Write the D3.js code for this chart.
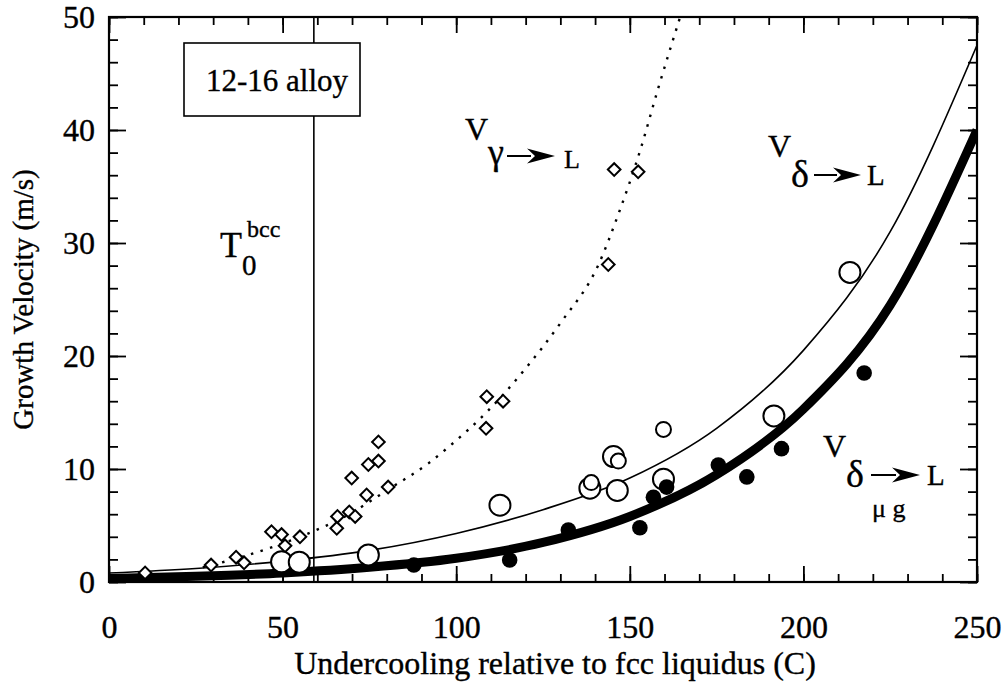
<!DOCTYPE html>
<html>
<head>
<meta charset="utf-8">
<script src="https://cdn.jsdelivr.net/npm/d3@7"></script>
<style>
  html, body { margin: 0; padding: 0; background: #fff; }
  svg { display: block; }
  text { font-family: "Liberation Serif", "Times New Roman", serif; fill: #000; stroke: #000; stroke-width: 0.35px; }
</style>
</head>
<body>
<svg id="chart" width="1008" height="693"></svg>
<script>
// Undercooling (C) and growth velocity (m/s) data
const gammaDiamonds = [
  [10.4, 0.8], [29.4, 1.5], [36.6, 2.2], [38.9, 1.7], [46.8, 4.45], [49.7, 4.2],
  [50.7, 3.2], [55.0, 4.0], [65.6, 4.75], [65.8, 5.8], [69.2, 6.2], [70.9, 5.8],
  [69.9, 9.2], [74.2, 7.7], [74.7, 10.4], [77.6, 10.7], [77.6, 12.4], [80.4, 8.4],
  [108.6, 13.6], [108.8, 16.4], [113.5, 16.0], [143.8, 28.1], [145.5, 36.5], [152.4, 36.3]
];
const deltaOpenLarge = [
  [49.7, 1.8], [54.8, 1.75], [74.7, 2.4], [112.6, 6.8], [138.5, 8.3], [146.4, 8.1],
  [145.3, 11.1], [159.7, 9.1], [191.5, 14.7], [213.4, 27.4]
];
const deltaOpenSmall = [
  [138.9, 8.8], [146.7, 10.7], [159.7, 13.5]
];
const deltaFilled = [
  [87.8, 1.5], [115.4, 1.95], [132.3, 4.6], [152.9, 4.8], [156.8, 7.5], [160.6, 8.4],
  [175.5, 10.35], [183.7, 9.3], [193.7, 11.8], [217.5, 18.5]
];

// Model curves
const curveGamma = [
  [27, 1.3], [38, 2.2], [55, 4.0], [68, 5.8], [81, 8.3], [92, 10.5], [98, 12.0],
  [109, 15.1], [120, 18.9], [130, 22.9], [141, 28.1], [147, 32.8], [153, 38.2],
  [158, 43.5], [164.5, 50]
];
const curveDelta = [
  [0, 0.8], [25, 1.2], [50, 1.85], [75, 2.8], [100, 4.3], [125, 6.4], [150, 9.2],
  [175, 13.6], [200, 20.5], [225, 31.0], [250, 47.5]
];
const curveDeltaMicroG = [
  [0, 0.3], [25, 0.5], [50, 0.8], [75, 1.3], [100, 2.1], [125, 3.5], [150, 5.8],
  [175, 9.5], [200, 15.3], [225, 24.5], [250, 40]
];

const xDomain = [0, 250];
const yDomain = [0, 50];
const xMajorTicks = [0, 50, 100, 150, 200, 250];
const yMajorTicks = [0, 10, 20, 30, 40, 50];
const xMinorTicks = d3.range(0, 251, 10);
const yMinorTicks = d3.range(0, 51, 2);
const t0bcc = 59;

const svg = d3.select("#chart");
const L = 109, R = 977, T = 17, B = 582;
const x = d3.scaleLinear().domain(xDomain).range([L, R]);
const y = d3.scaleLinear().domain(yDomain).range([B, T]);

svg.append("defs").append("clipPath").attr("id", "plotClip")
  .append("rect").attr("x", L).attr("y", T).attr("width", R - L).attr("height", B - T);

// ticks (inward on all four sides)
function tickAxis(axisGen, transform, size, values, labels, pad) {
  const g = svg.append("g").attr("transform", transform)
    .call(axisGen.tickValues(values).tickSize(-size).tickPadding(pad)
      .tickFormat(labels ? d3.format("d") : () => ""));
  g.select(".domain").remove();
  g.selectAll(".tick line").attr("stroke", "#000").attr("stroke-width", 1.8);
  g.selectAll(".tick text").style("font-family", "'Liberation Serif', 'Times New Roman', serif")
    .style("font-size", "32px").attr("fill", "#000");
  return g;
}
tickAxis(d3.axisBottom(x), `translate(0,${B})`, 8, xMinorTicks, false, 0);
tickAxis(d3.axisBottom(x), `translate(0,${B})`, 16, xMajorTicks, true, 33);
tickAxis(d3.axisTop(x), `translate(0,${T})`, 8, xMinorTicks, false, 0);
tickAxis(d3.axisTop(x), `translate(0,${T})`, 16, xMajorTicks, false, 0);
tickAxis(d3.axisLeft(y), `translate(${L},0)`, 9, yMinorTicks, false, 0);
tickAxis(d3.axisLeft(y), `translate(${L},0)`, 17, yMajorTicks, true, 14);
tickAxis(d3.axisRight(y), `translate(${R},0)`, 9, yMinorTicks, false, 0);
tickAxis(d3.axisRight(y), `translate(${R},0)`, 17, yMajorTicks, false, 0);

// T0 bcc vertical line
svg.append("line").attr("x1", x(t0bcc)).attr("x2", x(t0bcc))
  .attr("y1", y(yDomain[0])).attr("y2", y(yDomain[1]))
  .attr("stroke", "#000").attr("stroke-width", 1.6);

// curves
const plot = svg.append("g").attr("clip-path", "url(#plotClip)");
const line = d3.line().x(d => x(d[0])).y(d => y(d[1])).curve(d3.curveMonotoneX);
plot.append("path").datum(curveGamma).attr("d", line)
  .attr("fill", "none").attr("stroke", "#000").attr("stroke-width", 2.4)
  .attr("stroke-dasharray", "2.5 7.5");
plot.append("path").datum(curveDelta).attr("d", line)
  .attr("fill", "none").attr("stroke", "#000").attr("stroke-width", 1.6);
plot.append("path").datum(curveDeltaMicroG).attr("d", line)
  .attr("fill", "none").attr("stroke", "#000").attr("stroke-width", 9);

// markers
const diamond = d3.symbol().type(d3.symbolSquare).size(80);
svg.append("g").selectAll("path").data(gammaDiamonds).join("path")
  .attr("d", diamond)
  .attr("transform", d => `translate(${x(d[0])},${y(d[1])}) rotate(45)`)
  .attr("fill", "#fff").attr("stroke", "#000").attr("stroke-width", 2);
svg.append("g").selectAll("circle").data(deltaOpenLarge).join("circle")
  .attr("cx", d => x(d[0])).attr("cy", d => y(d[1])).attr("r", 10.5)
  .attr("fill", "#fff").attr("stroke", "#000").attr("stroke-width", 2);
svg.append("g").selectAll("circle").data(deltaOpenSmall).join("circle")
  .attr("cx", d => x(d[0])).attr("cy", d => y(d[1])).attr("r", 7.5)
  .attr("fill", "#fff").attr("stroke", "#000").attr("stroke-width", 2);
svg.append("g").selectAll("circle").data(deltaFilled).join("circle")
  .attr("cx", d => x(d[0])).attr("cy", d => y(d[1])).attr("r", 7.8)
  .attr("fill", "#000");

// frame
svg.append("rect").attr("x", L).attr("y", T).attr("width", R - L).attr("height", B - T)
  .attr("fill", "none").attr("stroke", "#000").attr("stroke-width", 2.2);

// alloy box
svg.append("rect").attr("x", 184).attr("y", 43).attr("width", 176).attr("height", 73)
  .attr("fill", "#fff").attr("stroke", "#000").attr("stroke-width", 1.6);
svg.append("text").attr("x", 206).attr("y", 91).style("font-size", "31px").text("12-16 alloy");

// multi-part label built from positioned tspans inside one text element
function label(parts) {
  const t = svg.append("text");
  parts.forEach(p => {
    t.append("tspan").attr("x", p[0]).attr("y", p[1])
      .style("font-size", p[2] + "px").text(p[3]);
  });
}

// T0 bcc label
label([[220, 257, 36, "T"], [242, 275, 29, "0"], [247, 237, 24, "bcc"]]);

// arrow glyph: thin shaft with a filled, notched head
function arrow(x0, x1, cy) {
  const head = 28, hh = 7.5;
  svg.append("line").attr("x1", x0).attr("x2", x1 - head + 4).attr("y1", cy).attr("y2", cy)
    .attr("stroke", "#000").attr("stroke-width", 2);
  svg.append("path")
    .attr("d", `M${x1 - head},${cy - hh} L${x1},${cy} L${x1 - head},${cy + hh} L${x1 - head + 8},${cy} Z`)
    .attr("fill", "#000");
}

// V gamma -> L
label([[465, 140, 32, "V"], [488, 164, 36, "γ"], [564, 168, 26, "L"]]);
arrow(507, 555, 156);

// V delta -> L
label([[768, 157, 32, "V"], [791, 187, 38, "δ"], [867, 185, 29, "L"]]);
arrow(814, 861, 175);

// V delta -> L, microgravity
label([[823, 457, 32, "V"], [846, 487, 38, "δ"], [927, 485, 29, "L"], [872, 517, 26, "μ g"]]);
arrow(871, 920, 475);

// axis titles
svg.append("text").attr("x", (L + R) / 2 + 12).attr("y", 674).attr("text-anchor", "middle")
  .style("font-size", "32px").text("Undercooling relative to fcc liquidus (C)");
svg.append("text").attr("transform", `translate(33,${(T + B) / 2}) rotate(-90)`)
  .attr("text-anchor", "middle").style("font-size", "29px").text("Growth Velocity (m/s)");
</script>
</body>
</html>
